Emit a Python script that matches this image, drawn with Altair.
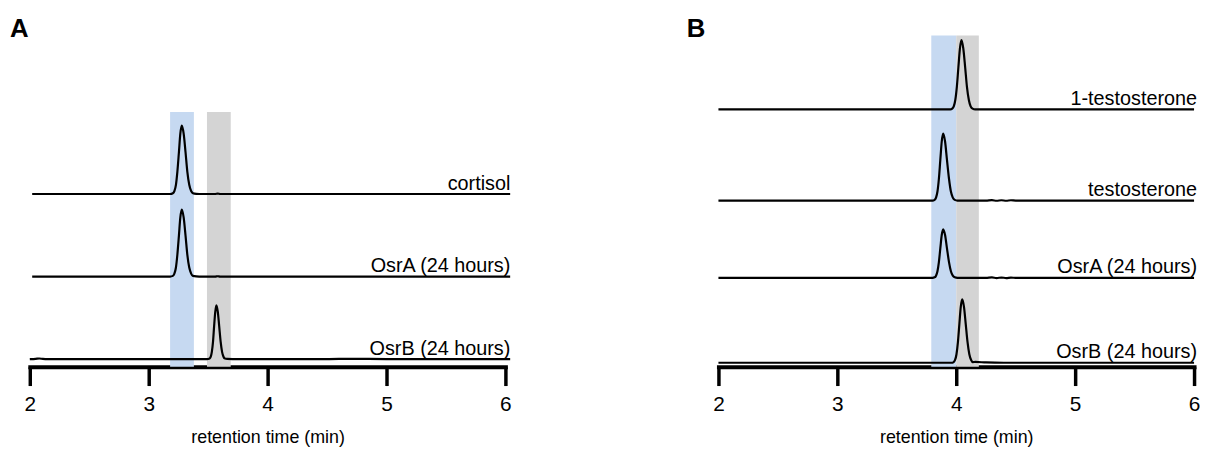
import altair as alt
import pandas as pd

FONT = "Liberation Sans"

# ---------------- Panel A data ----------------
a_names = ["cortisol", "OsrA (24 hours)", "OsrB (24 hours)"]
a_offsets = [174.3, 91.0, 7.7]

a_cortisol_t = [2.02, 2.6, 3.0, 3.18, 3.203, 3.216, 3.229, 3.241, 3.254, 3.266, 3.278,
                3.294, 3.310, 3.325, 3.341, 3.357, 3.372, 3.40, 3.45, 3.56, 3.58, 3.60, 4.0, 5.0, 6.04]
a_cortisol_v = [0, 0, 0, 0, 0.8, 3.0, 9.3, 22.4, 41.9, 60.9, 69.0,
                60.9, 41.9, 22.4, 9.3, 3.0, 0.8, 0.2, 0, 0, 0.4, 0, 0, 0, 0]

a_osra_t = [2.02, 2.6, 3.0, 3.18, 3.203, 3.216, 3.229, 3.241, 3.254, 3.266, 3.278,
            3.294, 3.310, 3.325, 3.341, 3.357, 3.372, 3.40, 3.45, 3.56, 3.58, 3.60, 4.0, 5.0, 6.04]
a_osra_v = [0, 0, 0, 0, 0.7, 3.0, 9.1, 22.0, 41.1, 59.7, 67.7,
            59.7, 41.1, 22.0, 9.1, 3.0, 0.7, 0.2, 0, 0, 0.3, 0, 0, 0, 0]

a_osrb_t = [2.0, 2.05, 2.08, 2.11, 2.15, 2.6, 3.0, 3.49, 3.512, 3.522, 3.531, 3.541, 3.550, 3.560, 3.569,
            3.581, 3.593, 3.605, 3.617, 3.629, 3.641, 3.66, 3.75, 4.5, 4.7, 5.0, 6.04]
a_osrb_v = [0, 0.3, 0.6, 0.2, 0, 0, 0, 0, 0.6, 2.4, 7.3, 17.6, 33.0, 47.9, 54.3,
            47.9, 33.0, 17.6, 7.3, 2.4, 0.6, 0.3, 0, 0, 0.3, 0, 0]

a_band_names = ["blue", "grey"]
a_band_start = [3.18, 3.49]
a_band_end = [3.38, 3.69]
a_band_top = [257.0, 257.0]

# ---------------- Panel B data ----------------
b_names = ["1-testosterone", "testosterone", "OsrA (24 hours)", "OsrB (24 hours)"]
b_offsets = [259.7, 167.7, 89.7, 4.0]

b_1testo_t = [2.0, 3.0, 3.5, 3.95, 3.966, 3.979, 3.992, 4.005, 4.018, 4.031, 4.044,
              4.059, 4.075, 4.090, 4.106, 4.121, 4.137, 4.16, 4.5, 5.0, 6.0]
b_1testo_v = [0, 0, 0, 0, 0.8, 3.1, 9.5, 22.8, 42.5, 61.7, 70.0,
              61.7, 42.5, 22.8, 9.5, 3.1, 0.8, 0, 0, 0, 0]

b_testo_t = [2.0, 3.0, 3.5, 3.80, 3.818, 3.830, 3.842, 3.854, 3.866, 3.878, 3.89,
             3.906, 3.922, 3.939, 3.955, 3.971, 3.987, 4.01, 4.25, 4.30, 4.34, 4.38, 4.42, 4.46, 4.5, 5.0, 6.0]
b_testo_v = [0, 0, 0, 0, 0.7, 3.0, 9.1, 22.0, 41.0, 59.6, 67.6,
             59.6, 41.0, 22.0, 9.1, 3.0, 0.7, 0, 0, 0.4, -0.2, 0.3, -0.2, 0.3, 0, 0, 0]

b_osra_t = [2.0, 3.0, 3.5, 3.80, 3.818, 3.830, 3.842, 3.854, 3.866, 3.878, 3.89,
            3.906, 3.922, 3.939, 3.955, 3.971, 3.987, 4.01, 4.25, 4.30, 4.34, 4.38, 4.42, 4.46, 4.5, 5.0, 6.0]
b_osra_v = [0, 0, 0, 0, 0.5, 2.2, 6.6, 15.9, 29.7, 43.2, 49.0,
            43.2, 29.7, 15.9, 6.6, 2.2, 0.5, 0, 0, 0.4, -0.2, 0.3, -0.2, 0.2, 0, 0, 0]

b_osrb_t = [2.0, 3.0, 3.5, 3.96, 3.978, 3.990, 4.002, 4.014, 4.026, 4.038, 4.05,
            4.065, 4.080, 4.095, 4.110, 4.125, 4.140, 4.16, 4.25, 4.4, 5.0, 6.0]
b_osrb_v = [0, 0, 0, 0, 0.7, 2.8, 8.6, 20.8, 38.8, 56.4, 64.0,
            56.4, 38.8, 20.8, 8.6, 2.8, 0.7, 0.8, 0.3, 0, 0, 0]

b_band_names = ["blue", "grey"]
b_band_start = [3.79, 4.00]
b_band_end = [4.00, 4.19]
b_band_top = [334.3, 334.3]

x_ticks = [2, 3, 4, 5, 6]
x_title = "retention time (min)"


def trace_frame(names, offsets, ts, vs):
    rows = []
    for name, off, t_list, v_list in zip(names, offsets, ts, vs):
        for t, v in zip(t_list, v_list):
            rows.append({"trace": name, "t": t, "v": v, "offset": off})
    return pd.DataFrame(rows)


def panel(letter, letter_dx, names, offsets, ts, vs, band_names, band_start, band_end, band_top, label_dx):
    traces = trace_frame(names, offsets, ts, vs)
    bands = pd.DataFrame({"band": band_names, "x0": band_start, "x1": band_end,
                          "bottom": [0.0] * len(band_names), "top": band_top})
    labels = pd.DataFrame({"trace": names, "offset": offsets, "xpos": [6.0] * len(names)})
    letter_df = pd.DataFrame({"letter": [letter]})

    xscale = alt.Scale(domain=[2, 6], nice=False, zero=False)
    yscale = alt.Scale(domain=[0, 337], nice=False, zero=False)
    xaxis = alt.Axis(
        values=x_ticks, title=x_title, grid=False, format="d",
        domainColor="black", domainWidth=4, domainCap="square",
        tickColor="black", tickWidth=3.5, tickSize=19,
        labelFont=FONT, labelFontSize=21, labelColor="black", labelPadding=8,
        labelFlush=False, labelBound=False, labelOverlap=False,
        titleFont=FONT, titleFontSize=18, titleFontWeight="normal", titleColor="black", titlePadding=14,
    )

    band_layer = alt.Chart(bands).mark_rect(opacity=1).encode(
        x=alt.X("x0:Q", scale=xscale, axis=xaxis, title=x_title),
        x2="x1:Q",
        y=alt.Y("bottom:Q", scale=yscale, axis=None),
        y2="top:Q",
        color=alt.Color("band:N", scale=alt.Scale(domain=["blue", "grey"], range=["#c6d9f1", "#d4d4d4"]), legend=None),
    )

    line_layer = alt.Chart(traces).transform_calculate(
        y="datum.offset + datum.v"
    ).mark_line(color="black", strokeWidth=2.2, interpolate="monotone", clip=False).encode(
        x=alt.X("t:Q", scale=xscale, axis=xaxis, title=x_title),
        y=alt.Y("y:Q", scale=yscale, axis=None),
        detail="trace:N",
        order="t:Q",
    )

    label_layer = alt.Chart(labels).mark_text(
        align="right", baseline="alphabetic", dx=label_dx, dy=-4.5,
        font=FONT, fontSize=20, color="black"
    ).encode(
        x=alt.X("xpos:Q", scale=xscale, axis=xaxis, title=x_title),
        y=alt.Y("offset:Q", scale=yscale, axis=None),
        text="trace:N",
    )

    letter_layer = alt.Chart(letter_df).mark_text(
        align="left", baseline="alphabetic", font=FONT, fontSize=26, fontWeight="bold", color="black"
    ).encode(
        x=alt.value(letter_dx),
        y=alt.value(3.8),
        text="letter:N",
    )

    return alt.layer(band_layer, line_layer, label_layer, letter_layer).properties(width=480, height=337)


chart_a = panel("A", -20, a_names, a_offsets,
                [a_cortisol_t, a_osra_t, a_osrb_t], [a_cortisol_v, a_osra_v, a_osrb_v],
                a_band_names, a_band_start, a_band_end, a_band_top, 5)
chart_b = panel("B", -32, b_names, b_offsets,
                [b_1testo_t, b_testo_t, b_osra_t, b_osrb_t], [b_1testo_v, b_testo_v, b_osra_v, b_osrb_v],
                b_band_names, b_band_start, b_band_end, b_band_top, 3)

chart = alt.hconcat(chart_a, chart_b, spacing=173).properties(
    padding={"left": 2, "top": 5, "right": 0, "bottom": 0}
).configure_view(strokeWidth=0)

chart.save("out.html", embed_options={"renderer": "svg", "actions": False})
